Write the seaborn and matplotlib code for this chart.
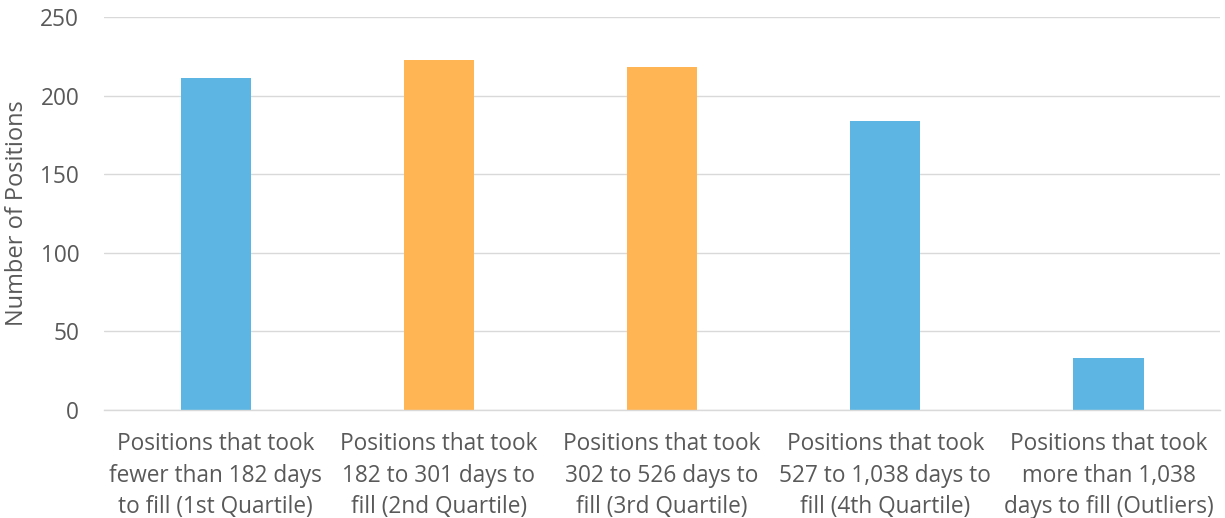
import matplotlib
matplotlib.use("Agg")
import matplotlib.pyplot as plt
import seaborn as sns
import pandas as pd

categories = [
    "Positions that took\nfewer than 182 days\nto fill (1st Quartile)",
    "Positions that took\n182 to 301 days to\nfill (2nd Quartile)",
    "Positions that took\n302 to 526 days to\nfill (3rd Quartile)",
    "Positions that took\n527 to 1,038 days to\nfill (4th Quartile)",
    "Positions that took\nmore than 1,038\ndays to fill (Outliers)",
]
values = [211, 223, 218, 184, 33]
bar_colors = ["#5DB5E3", "#FFB554", "#FFB554", "#5DB5E3", "#5DB5E3"]
y_ticks = [0, 50, 100, 150, 200, 250]
y_label = "Number of Positions"

sns.set_theme(style="white")
plt.rcParams["font.family"] = ["Open Sans", "DejaVu Sans"]

df = pd.DataFrame({"cat": categories, "val": values})

fig = plt.figure(figsize=(12.25, 5.18), dpi=100)
ax = fig.add_axes([0.085, 0.2085, 0.911, 0.7585])

sns.barplot(data=df, x="cat", y="val", hue="cat", palette=bar_colors,
            legend=False, width=0.314, ax=ax, saturation=1, linewidth=0)

ax.set_ylim(0, 250)
ax.set_xlim(-0.5, 4.5)
ax.set_yticks(y_ticks)
ax.yaxis.grid(True, color="#D9D9D9", linewidth=1.0)
ax.set_axisbelow(True)
for s in ["top", "right", "left"]:
    ax.spines[s].set_visible(False)
ax.spines["bottom"].set_color("#D9D9D9")
ax.spines["bottom"].set_linewidth(1.0)
ax.tick_params(axis="both", length=0, colors="#595959", labelsize=16.3)
ax.tick_params(axis="x", pad=16)
ax.tick_params(axis="y", pad=18)
for lbl in ax.get_xticklabels():
    lbl.set_linespacing(1.42)
ax.set_xlabel("")
ax.set_ylabel(y_label, fontsize=17, color="#595959", labelpad=8)

fig.savefig("out.png", dpi=100)
